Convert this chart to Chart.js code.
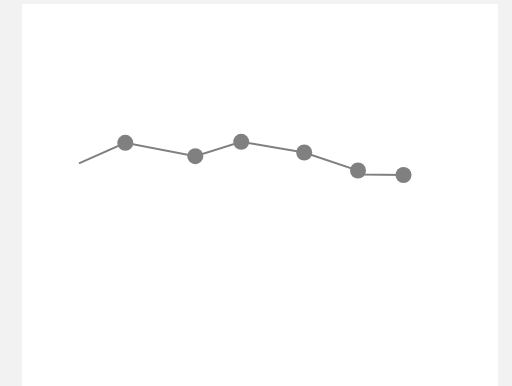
<!DOCTYPE html>
<html>
<head>
<meta charset="utf-8">
<script src="https://cdn.jsdelivr.net/npm/chart.js@4/dist/chart.umd.min.js"></script>
<style>
  html, body { margin: 0; padding: 0; background: #f2f2f2; }
  #wrap {
    position: absolute;
    left: 22px;
    top: 4px;
    width: 476px;
    height: 382px;
    background: #ffffff;
  }
</style>
</head>
<body>
<div id="wrap"><canvas id="chart"></canvas></div>
<script>
// series values
const xs = [11.97, 21.70, 36.41, 46.05, 59.29, 70.59, 71.43, 80.15]
const ys = [58.30, 63.66, 60.16, 63.93, 61.13, 56.41, 55.34, 55.24]
// samples drawn without a marker get radius 0
const radii = [0, 8, 8, 8, 8, 8, 0, 8]

let points = []
for (let i = 0; i < xs.length; ++i)
  points.push({x: xs[i], y: ys[i]})

let colour = '#808080'
let ctx = document.getElementById('chart').getContext('2d')
new Chart(ctx, {
  type: 'line',
  data: {
    datasets: [{
      data: points,
      borderColor: colour,
      borderWidth: 2,
      backgroundColor: colour,
      pointBackgroundColor: colour,
      pointBorderWidth: 0,
      pointRadius: radii,
      pointHoverRadius: radii,
      fill: false,
      tension: 0,
    }],
  },
  options: {
    responsive: true,
    maintainAspectRatio: false,
    animation: false,
    layout: {padding: 0, autoPadding: false},
    plugins: {legend: {display: false}, tooltip: {enabled: false}},
    scales: {
      x: {type: 'linear', min: 0, max: 100, display: false},
      y: {type: 'linear', min: 0, max: 100, display: false},
    },
  },
})
</script>
</body>
</html>
